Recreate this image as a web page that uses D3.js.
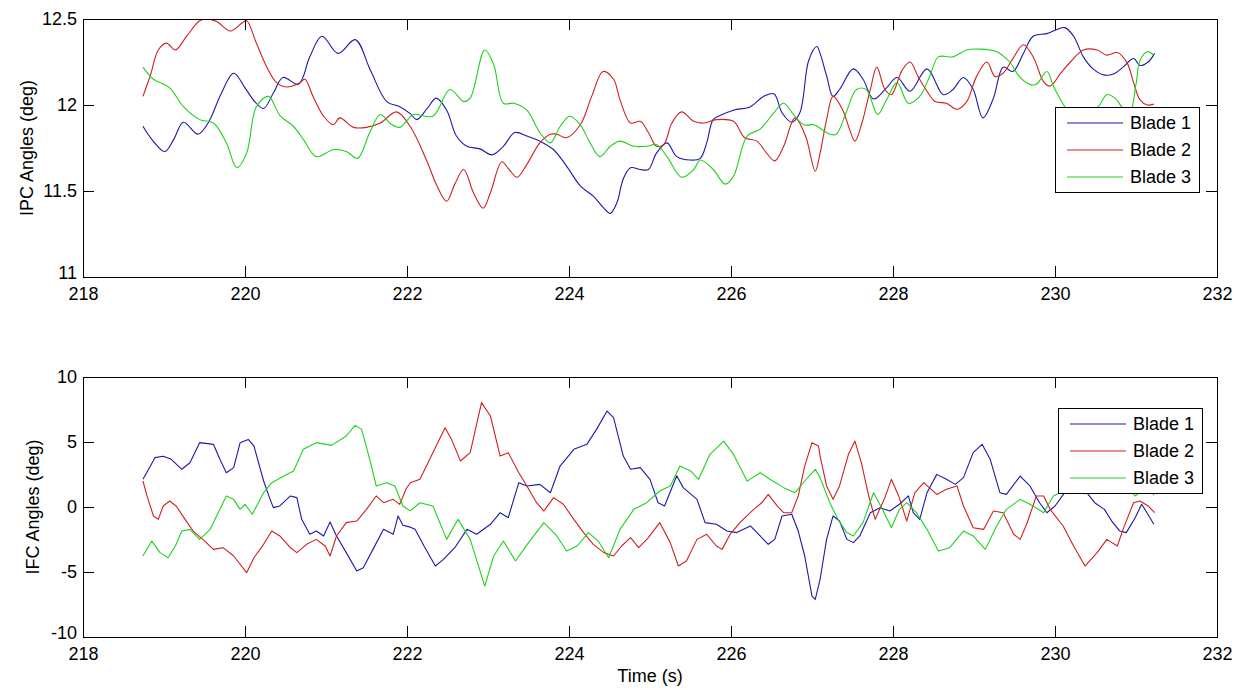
<!DOCTYPE html>
<html>
<head>
<meta charset="utf-8">
<script src="https://cdn.jsdelivr.net/npm/d3@7/dist/d3.min.js"></script>
<style>
  html, body { margin: 0; padding: 0; background: #fff; }
  svg { display: block; }
  text { font-family: "Liberation Sans", Arial, Helvetica, sans-serif; fill: #000; }
</style>
</head>
<body>
<svg id="chart" width="1242" height="690"></svg>
<script>
// ---------------- DATA ----------------
const xTicks = [218, 220, 222, 224, 226, 228, 230, 232];
const ipcTicks = [11, 11.5, 12, 12.5];
const ifcTicks = [-10, -5, 0, 5, 10];
const seriesNames = ["Blade 1", "Blade 2", "Blade 3"];
const seriesColors = ["#1a1aa8", "#d02020", "#1ed21e"];

// IPC angles (deg) : [time (s), value]
const ipcBlade1 = [[218.74,11.876],[218.85,11.80],[219.01,11.73],[219.12,11.80],[219.24,11.90],[219.42,11.83],[219.55,11.90],[219.70,12.06],[219.86,12.185],[220.0,12.10],[220.12,12.02],[220.23,11.98],[220.35,12.07],[220.47,12.16],[220.66,12.12],[220.80,12.28],[220.95,12.40],[221.15,12.30],[221.36,12.38],[221.55,12.20],[221.75,12.02],[221.91,11.99],[222.04,11.95],[222.12,11.915],[222.25,11.98],[222.36,12.04],[222.49,11.97],[222.61,11.82],[222.74,11.76],[222.90,11.745],[223.05,11.71],[223.19,11.76],[223.33,11.84],[223.48,11.82],[223.64,11.79],[223.81,11.74],[223.97,11.645],[224.14,11.53],[224.30,11.47],[224.43,11.40],[224.51,11.37],[224.59,11.43],[224.67,11.57],[224.76,11.635],[224.88,11.625],[224.98,11.625],[225.08,11.72],[225.21,11.78],[225.33,11.70],[225.50,11.68],[225.62,11.69],[225.70,11.78],[225.78,11.915],[225.87,11.94],[226.03,11.97],[226.24,11.99],[226.40,12.05],[226.53,12.065],[226.63,11.955],[226.75,11.90],[226.85,11.955],[226.96,12.26],[227.06,12.34],[227.10,12.30],[227.18,12.17],[227.26,12.05],[227.34,12.09],[227.51,12.21],[227.63,12.15],[227.76,12.035],[227.92,12.10],[228.05,12.16],[228.21,12.08],[228.42,12.21],[228.62,12.06],[228.74,12.09],[228.87,12.16],[228.99,12.09],[229.11,11.925],[229.24,12.04],[229.36,12.22],[229.48,12.195],[229.61,12.30],[229.73,12.40],[229.90,12.415],[229.98,12.43],[230.12,12.45],[230.23,12.40],[230.35,12.28],[230.47,12.21],[230.60,12.175],[230.72,12.18],[230.84,12.22],[230.97,12.27],[231.05,12.23],[231.15,12.25],[231.23,12.30]];
const ipcBlade2 = [[218.74,12.05],[218.83,12.17],[218.93,12.32],[219.03,12.36],[219.14,12.32],[219.28,12.40],[219.44,12.49],[219.53,12.50],[219.65,12.485],[219.82,12.43],[219.96,12.475],[220.02,12.49],[220.14,12.36],[220.27,12.22],[220.39,12.13],[220.51,12.105],[220.68,12.13],[220.74,12.15],[220.84,12.05],[220.97,11.935],[221.09,11.885],[221.17,11.925],[221.34,11.87],[221.50,11.87],[221.67,11.895],[221.87,11.96],[222.04,11.875],[222.24,11.68],[222.37,11.53],[222.49,11.44],[222.59,11.54],[222.70,11.625],[222.82,11.49],[222.94,11.40],[223.03,11.49],[223.17,11.67],[223.26,11.625],[223.36,11.58],[223.48,11.655],[223.64,11.78],[223.77,11.83],[223.85,11.83],[223.97,11.81],[224.14,11.885],[224.28,12.05],[224.42,12.195],[224.55,12.15],[224.63,12.03],[224.76,11.895],[224.88,11.905],[224.98,11.84],[225.08,11.76],[225.17,11.77],[225.27,11.895],[225.39,11.96],[225.54,11.905],[225.66,11.895],[225.82,11.915],[226.03,11.905],[226.17,11.81],[226.32,11.79],[226.44,11.72],[226.54,11.675],[226.65,11.76],[226.79,11.925],[226.92,11.82],[227.04,11.615],[227.10,11.72],[227.18,11.915],[227.26,12.05],[227.38,11.97],[227.47,11.85],[227.53,11.79],[227.61,11.885],[227.72,12.09],[227.80,12.22],[227.90,12.09],[227.98,12.06],[228.11,12.20],[228.21,12.25],[228.31,12.165],[228.42,12.08],[228.52,12.02],[228.66,12.01],[228.79,11.975],[228.91,12.02],[229.03,12.165],[229.16,12.25],[229.26,12.165],[229.36,12.185],[229.48,12.27],[229.61,12.35],[229.73,12.28],[229.86,12.135],[229.94,12.11],[230.07,12.185],[230.19,12.25],[230.35,12.32],[230.52,12.32],[230.64,12.29],[230.77,12.305],[230.89,12.245],[230.97,12.13],[231.05,12.03],[231.14,12.00],[231.22,12.005]];
const ipcBlade3 = [[218.74,12.22],[218.87,12.15],[219.07,12.10],[219.24,11.99],[219.44,11.915],[219.61,11.895],[219.77,11.78],[219.90,11.635],[220.02,11.72],[220.14,11.99],[220.29,12.05],[220.43,11.94],[220.60,11.875],[220.72,11.80],[220.88,11.70],[221.09,11.74],[221.25,11.73],[221.39,11.69],[221.54,11.84],[221.67,11.945],[221.80,11.89],[221.91,11.87],[222.0,11.91],[222.08,11.945],[222.32,11.935],[222.53,12.09],[222.70,12.02],[222.78,12.04],[222.96,12.32],[223.07,12.235],[223.19,12.01],[223.32,12.01],[223.48,11.97],[223.64,11.84],[223.77,11.78],[223.89,11.875],[224.01,11.935],[224.14,11.885],[224.26,11.78],[224.38,11.70],[224.51,11.76],[224.63,11.79],[224.80,11.76],[224.96,11.76],[225.08,11.77],[225.21,11.70],[225.39,11.58],[225.54,11.625],[225.62,11.68],[225.78,11.625],[225.93,11.54],[226.03,11.585],[226.20,11.82],[226.36,11.86],[226.53,11.955],[226.65,12.01],[226.77,11.945],[226.90,11.885],[227.02,11.885],[227.10,11.865],[227.22,11.83],[227.30,11.83],[227.42,11.955],[227.55,12.09],[227.67,12.09],[227.81,11.945],[227.92,12.03],[228.05,12.13],[228.19,12.01],[228.33,12.05],[228.46,12.175],[228.56,12.28],[228.74,12.28],[228.91,12.32],[229.07,12.325],[229.28,12.31],[229.44,12.25],[229.56,12.165],[229.69,12.12],[229.77,12.12],[229.90,12.195],[229.98,12.11],[230.07,12.03],[230.15,11.97],[230.30,11.90],[230.45,11.95],[230.55,12.0],[230.64,12.06],[230.74,12.04],[230.84,11.98],[230.92,11.95],[231.0,12.12],[231.05,12.26],[231.14,12.31],[231.22,12.29]];

// IFC angles (deg) : [time (s), value]
const ifcBlade1 = [[218.74,2.13],[218.81,2.9],[218.89,3.8],[218.99,3.9],[219.09,3.67],[219.22,2.9],[219.32,3.4],[219.44,4.95],[219.61,4.82],[219.69,3.67],[219.77,2.64],[219.86,3.03],[219.94,4.95],[220.04,5.2],[220.11,4.7],[220.23,2.0],[220.31,0.59],[220.35,-0.05],[220.43,0.08],[220.56,0.85],[220.64,0.72],[220.70,-0.95],[220.80,-2.1],[220.88,-1.85],[220.97,-2.23],[221.05,-1.15],[221.13,-2.23],[221.25,-3.51],[221.38,-4.92],[221.46,-4.67],[221.58,-3.26],[221.71,-1.72],[221.83,-2.1],[221.89,-0.69],[221.95,-1.40],[222.04,-1.55],[222.10,-1.72],[222.21,-3.0],[222.35,-4.54],[222.45,-4.03],[222.59,-3.13],[222.74,-1.72],[222.86,-2.1],[223.03,-1.33],[223.15,-0.44],[223.25,-0.82],[223.38,1.87],[223.48,1.62],[223.64,1.74],[223.77,1.1],[223.89,3.15],[224.06,4.44],[224.22,4.82],[224.34,5.97],[224.47,7.38],[224.55,6.87],[224.67,3.92],[224.76,2.9],[224.88,3.03],[225.0,2.13],[225.10,0.33],[225.18,0.08],[225.33,2.4],[225.41,1.49],[225.58,0.59],[225.68,-1.2],[225.82,-1.33],[225.95,-1.85],[226.07,-1.97],[226.24,-1.46],[226.36,-2.23],[226.46,-2.87],[226.54,-2.49],[226.63,-0.69],[226.75,-0.56],[226.83,-1.85],[226.91,-3.77],[227.0,-6.85],[227.04,-7.1],[227.10,-5.56],[227.18,-2.49],[227.26,-0.69],[227.34,-1.08],[227.43,-2.49],[227.51,-2.74],[227.59,-2.23],[227.72,-0.44],[227.84,-0.05],[227.96,-0.31],[228.08,0.21],[228.19,0.85],[228.25,-0.44],[228.33,-0.95],[228.42,1.1],[228.54,2.51],[228.66,2.13],[228.77,1.74],[228.87,2.26],[228.99,4.18],[229.10,4.82],[229.20,3.67],[229.32,1.1],[229.40,0.97],[229.57,2.38],[229.69,1.62],[229.81,0.33],[229.90,-0.44],[230.0,0.08],[230.12,1.1],[230.22,1.8],[230.32,1.6],[230.41,0.97],[230.49,0.33],[230.61,-0.18],[230.70,-1.08],[230.80,-1.85],[230.88,-1.97],[230.99,-0.82],[231.07,0.21],[231.16,-0.69],[231.22,-1.33]];
const ifcBlade2 = [[218.74,2.0],[218.79,0.85],[218.87,-0.69],[218.93,-0.95],[218.99,0.08],[219.07,0.46],[219.15,0.08],[219.26,-0.95],[219.36,-1.85],[219.48,-2.49],[219.61,-3.26],[219.73,-3.13],[219.86,-3.77],[220.02,-5.05],[220.11,-3.9],[220.23,-2.87],[220.33,-1.85],[220.43,-2.23],[220.56,-3.13],[220.64,-3.51],[220.76,-2.87],[220.88,-2.49],[220.99,-3.0],[221.05,-3.77],[221.13,-2.23],[221.25,-1.2],[221.38,-1.08],[221.50,-0.18],[221.62,0.85],[221.71,0.33],[221.83,0.59],[221.91,0.2],[221.99,1.4],[222.04,1.87],[222.16,2.13],[222.28,3.67],[222.47,6.1],[222.55,5.2],[222.66,3.54],[222.78,4.18],[222.92,8.03],[223.03,7.0],[223.15,3.92],[223.25,4.18],[223.38,2.64],[223.48,1.62],[223.60,0.33],[223.69,-0.31],[223.81,0.72],[223.93,0.21],[224.06,-0.95],[224.18,-1.97],[224.30,-2.87],[224.43,-3.51],[224.55,-3.77],[224.65,-3.0],[224.76,-2.36],[224.86,-3.13],[224.98,-2.36],[225.12,-1.2],[225.25,-2.74],[225.35,-4.54],[225.45,-4.15],[225.58,-2.49],[225.70,-2.1],[225.82,-3.0],[225.89,-3.26],[225.99,-2.1],[226.11,-1.2],[226.28,-0.18],[226.38,0.33],[226.46,0.97],[226.57,0.08],[226.65,-0.44],[226.75,-0.44],[226.83,0.85],[226.91,3.15],[227.0,4.95],[227.08,4.7],[227.10,3.92],[227.18,1.62],[227.26,0.59],[227.34,1.62],[227.45,4.05],[227.53,5.07],[227.61,3.4],[227.70,0.85],[227.78,-0.95],[227.90,0.72],[227.98,2.13],[228.07,0.85],[228.17,-1.08],[228.27,1.1],[228.38,1.87],[228.54,0.97],[228.66,1.36],[228.79,1.62],[228.87,0.08],[228.99,-1.59],[229.12,-1.72],[229.24,-0.31],[229.36,-0.44],[229.49,-2.1],[229.57,-2.49],[229.65,-1.33],[229.77,0.85],[229.86,0.85],[229.94,-0.18],[230.10,-1.46],[230.23,-3.0],[230.37,-4.54],[230.52,-3.51],[230.64,-2.49],[230.77,-3.0],[230.84,-1.72],[230.97,0.33],[231.05,0.46],[231.15,0.08],[231.23,-0.44]];
const ifcBlade3 = [[218.74,-3.77],[218.85,-2.62],[218.95,-3.51],[219.05,-3.9],[219.14,-3.0],[219.22,-1.85],[219.32,-1.72],[219.44,-2.49],[219.57,-1.72],[219.69,-0.18],[219.77,0.85],[219.86,0.59],[219.94,-0.18],[220.0,0.21],[220.09,-0.56],[220.23,1.1],[220.33,1.87],[220.48,2.38],[220.60,2.77],[220.72,4.44],[220.88,4.95],[221.07,4.74],[221.25,5.46],[221.36,6.28],[221.44,5.97],[221.54,3.67],[221.62,1.62],[221.75,1.87],[221.85,1.62],[221.95,0.08],[222.04,-0.3],[222.16,0.33],[222.32,0.08],[222.49,-2.49],[222.63,-0.95],[222.78,-2.49],[222.96,-6.08],[223.07,-3.77],[223.19,-2.62],[223.34,-4.15],[223.50,-2.74],[223.69,-1.2],[223.85,-2.23],[223.97,-3.38],[224.10,-3.0],[224.24,-1.97],[224.36,-2.62],[224.49,-3.9],[224.63,-1.72],[224.80,-0.18],[224.96,0.33],[225.12,1.23],[225.25,1.62],[225.37,3.15],[225.50,2.77],[225.60,2.13],[225.74,4.05],[225.91,5.07],[226.03,4.05],[226.20,1.99],[226.36,2.64],[226.48,2.13],[226.65,1.49],[226.79,1.1],[226.91,2.0],[227.04,2.9],[227.10,2.26],[227.22,0.33],[227.32,-0.95],[227.43,-1.97],[227.51,-2.23],[227.63,-1.2],[227.76,1.1],[227.86,-0.05],[227.98,-1.59],[228.08,-0.18],[228.17,0.33],[228.29,-0.44],[228.42,-1.72],[228.56,-3.38],[228.70,-3.13],[228.87,-1.85],[228.99,-2.23],[229.14,-3.26],[229.28,-1.46],[229.40,-0.18],[229.57,0.59],[229.73,0.08],[229.86,-0.44],[229.98,0.85],[230.06,1.1],[230.2,1.8],[230.4,2.2],[230.6,2.0],[230.8,1.7],[230.92,1.3],[230.99,0.85],[231.08,1.3],[231.16,1.62],[231.22,0.9]];

// ---------------- LAYOUT ----------------
const svg = d3.select("#chart");
svg.append("rect").attr("width", 1242).attr("height", 690).attr("fill", "#fff");

const L = 83, R = 1217;
const panels = [
  { top: 19, bottom: 277, domain: [11, 12.5], ticks: ipcTicks, label: "IPC Angles (deg)",
    series: [ipcBlade1, ipcBlade2, ipcBlade3], curve: d3.curveCatmullRom.alpha(0.5),
    legend: { x: 1055, y: 107 }, labelX: 27, xlabel: null },
  { top: 377, bottom: 637, domain: [-10, 10], ticks: ifcTicks, label: "IFC Angles (deg)",
    series: [ifcBlade1, ifcBlade2, ifcBlade3], curve: d3.curveLinear,
    legend: { x: 1058, y: 408 }, labelX: 33, xlabel: "Time (s)" }
];

const x = d3.scaleLinear().domain([218, 232]).range([L, R]);
const FS = 18;
const TICK = 11;

panels.forEach((p, i) => {
  const y = d3.scaleLinear().domain(p.domain).range([p.bottom, p.top]);
  const g = svg.append("g");

  const clipId = "clip" + i;
  svg.append("clipPath").attr("id", clipId)
    .append("rect").attr("x", L).attr("y", p.top).attr("width", R - L).attr("height", p.bottom - p.top);

  // data lines
  const line = d3.line().x(d => x(d[0])).y(d => y(d[1])).curve(p.curve);
  const lg = g.append("g").attr("clip-path", `url(#${clipId})`);
  p.series.forEach((s, k) => {
    lg.append("path").datum(s).attr("d", line)
      .attr("fill", "none").attr("stroke", seriesColors[k]).attr("stroke-width", 1.1)
      .attr("stroke-linejoin", "round");
  });

  // axes (ticks inside, box)
  const fmt = d => String(d);
  const xb = d3.axisBottom(x).tickValues(xTicks).tickFormat(fmt).tickSizeInner(-TICK).tickSizeOuter(0).tickPadding(10);
  const xt = d3.axisTop(x).tickValues(xTicks).tickFormat("").tickSizeInner(-TICK).tickSizeOuter(0);
  const yl = d3.axisLeft(y).tickValues(p.ticks).tickFormat(fmt).tickSizeInner(-TICK).tickSizeOuter(0).tickPadding(6);
  const yr = d3.axisRight(y).tickValues(p.ticks).tickFormat("").tickSizeInner(-TICK).tickSizeOuter(0);

  const styleAxis = sel => {
    sel.selectAll("path.domain").remove();
    sel.selectAll("line").attr("stroke", "#000").attr("stroke-width", 1);
    sel.selectAll("text").attr("font-size", FS).attr("font-family", '"Liberation Sans", Arial, sans-serif').attr("fill", "#000");
  };
  g.append("g").attr("transform", `translate(0,${p.bottom})`).call(xb).call(styleAxis);
  g.append("g").attr("transform", `translate(0,${p.top})`).call(xt).call(styleAxis);
  const ylG = g.append("g").attr("transform", `translate(${L},0)`).call(yl).call(styleAxis);
  // lowest y label sits in the corner above the first x label: lift it slightly
  ylG.selectAll(".tick").filter(d => d === p.domain[0]).select("text").attr("dy", "0.1em");
  g.append("g").attr("transform", `translate(${R},0)`).call(yr).call(styleAxis);

  g.append("rect").attr("x", L).attr("y", p.top).attr("width", R - L).attr("height", p.bottom - p.top)
    .attr("fill", "none").attr("stroke", "#000").attr("stroke-width", 1).attr("shape-rendering", "crispEdges");

  // y label
  g.append("text")
    .attr("transform", `translate(${p.labelX},${(p.top + p.bottom) / 2}) rotate(-90)`)
    .attr("text-anchor", "middle").attr("dominant-baseline", "central")
    .attr("font-size", FS).text(p.label);

  if (p.xlabel) {
    g.append("text").attr("x", (L + R) / 2).attr("y", 682)
      .attr("text-anchor", "middle").attr("font-size", FS).text(p.xlabel);
  }

  // legend
  const lw = 144, lh = 85;
  const leg = g.append("g").attr("transform", `translate(${p.legend.x},${p.legend.y})`);
  leg.append("rect").attr("width", lw).attr("height", lh).attr("fill", "#fff")
    .attr("stroke", "#000").attr("stroke-width", 1).attr("shape-rendering", "crispEdges");
  seriesNames.forEach((name, k) => {
    const yy = 16 + k * 27;
    leg.append("line").attr("x1", 12).attr("x2", 68).attr("y1", yy).attr("y2", yy)
      .attr("stroke", seriesColors[k]).attr("stroke-width", 1.1);
    leg.append("text").attr("x", 75).attr("y", yy).attr("dominant-baseline", "central")
      .attr("font-size", FS).text(name);
  });
});
</script>
</body>
</html>
